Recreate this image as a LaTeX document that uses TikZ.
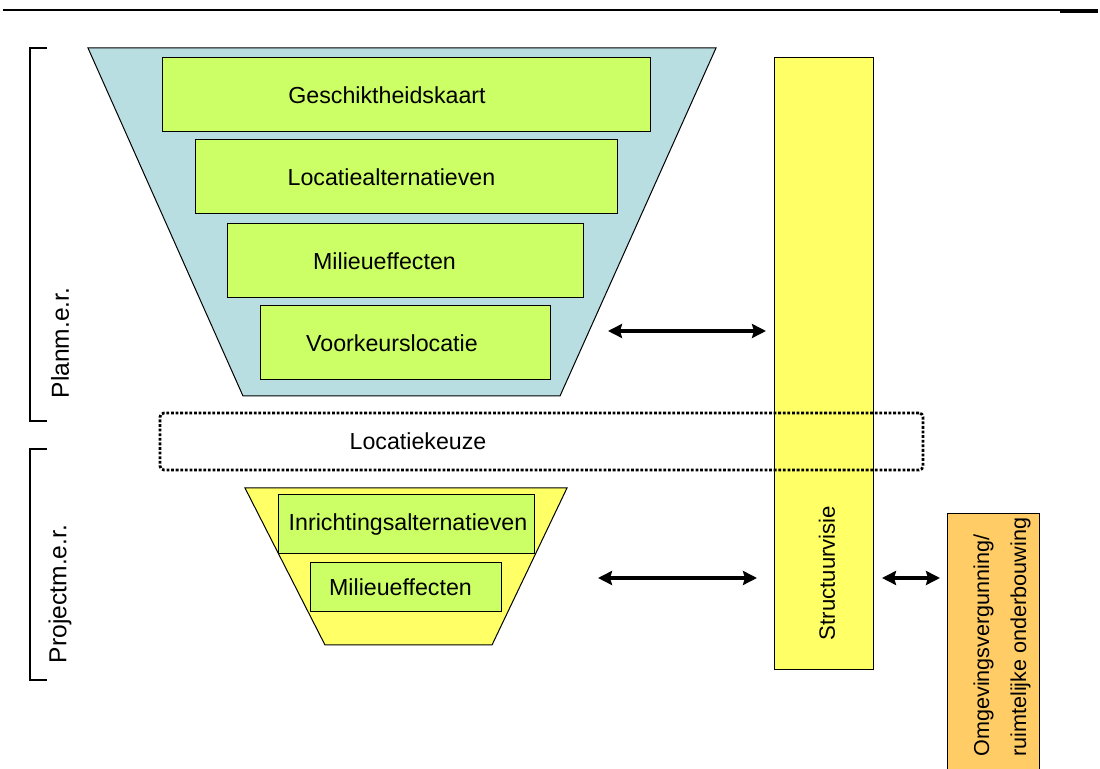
\documentclass[tikz,border=0pt]{standalone}
\usepackage{fontspec}
\setmainfont{Liberation Sans}
\usepackage{tikz}
\usetikzlibrary{arrows.meta}
\definecolor{blauw}{RGB}{185, 222, 226}
\definecolor{groen}{RGB}{204, 255, 102}
\definecolor{geel}{RGB}{255, 255, 102}
\definecolor{oranje}{RGB}{255, 204, 102}
\tikzset{
    trechter/.style={draw=black, line width=0.5pt},
    blok/.style={draw, rectangle, fill=groen, line width=0.5pt, inner sep=0pt},
    keuze/.style={draw, rectangle, rounded corners=2pt, line width=1.4pt, dash pattern=on 1.4pt off 0.9pt, inner sep=0pt},
    lbl/.style={font=\fontsize{11.6}{13}\selectfont},
    zij/.style={rotate=90, font=\fontsize{12.3}{14}\selectfont},
    pijl/.style={{Stealth[length=7pt, width=7pt, inset=1pt]}-{Stealth[length=7pt, width=7pt, inset=1pt]}, line width=1.6pt},
    haak/.style={line width=1.2pt},
}
\begin{document}
\begin{tikzpicture}[x=0.5pt, y=-0.5pt]
        \clip (0, 0) rectangle (1100, 769);

        % bovenlijn
        \draw[line width=1pt] (3, 10) -- (1060, 10);
        \draw[line width=1.6pt] (1060, 11) -- (1098, 11);

        % plan-m.e.r. trechter
        \draw[trechter, fill=blauw] (88, 48) -- (716, 48) -- (560, 396) -- (243, 396) -- cycle;
        \node[blok, minimum width=244pt, minimum height=37pt, label={[lbl, xshift=-9.5pt]center:Geschiktheidskaart}] (geschikt) at (406, 95) {};
        \node[blok, minimum width=211pt, minimum height=37pt, label={[lbl, xshift=-7.25pt]center:Locatiealternatieven}] (localt) at (406, 177) {};
        \node[blok, minimum width=178pt, minimum height=37pt, label={[lbl, xshift=-10.25pt]center:Milieueffecten}] (mileff1) at (405, 261) {};
        \node[blok, minimum width=145pt, minimum height=37pt, label={[lbl, xshift=-6.5pt]center:Voorkeurslocatie}] (voorkeur) at (405, 343) {};

        % structuurvisie
        \node[blok, fill=geel, minimum width=49.5pt, minimum height=306pt] (visie) at (823.5, 364) {};
        \node[font=\fontsize{11.1}{13}\selectfont, rotate=90] (visietxt) at (827, 573) {Structuurvisie};

        % locatiekeuze
        \node[keuze, minimum width=381.5pt, minimum height=28.5pt, label={[lbl, xshift=-61.75pt]center:Locatiekeuze}] (keuze) at (541.5, 441.5) {};

        % project-m.e.r. trechter
        \draw[trechter, fill=geel] (245, 488) -- (567, 488) -- (492, 645) -- (325, 645) -- cycle;
        \node[blok, minimum width=128pt, minimum height=29.5pt, label={[lbl, xshift=1pt]center:Inrichtingsalternatieven}] (inricht) at (406, 524.5) {};
        \node[blok, minimum width=95.5pt, minimum height=24.5pt, label={[lbl, xshift=-2.5pt]center:Milieueffecten}] (mileff2) at (405.5, 587.5) {};

        % omgevingsvergunning
        \node[blok, fill=oranje, minimum width=46pt, minimum height=143pt] (omgeving) at (993, 657) {};
        \node[font=\fontsize{10.8}{18.5}\selectfont, rotate=90, align=left, anchor=west, inner sep=0pt] (omgevingtxt) at (1002, 757) {Omgevingsvergunning/\\ruimtelijke onderbouwing};

        % pijlen
        \coordinate (p1a) at (608, 331);
        \coordinate (p1b) at (766, 331);
        \coordinate (p2a) at (598, 578);
        \coordinate (p2b) at (757, 578);
        \coordinate (p3a) at (882, 578);
        \coordinate (p3b) at (940, 578);
        \draw[pijl] (p1a) -- (p1b);
        \draw[pijl] (p2a) -- (p2b);
        \draw[pijl] (p3a) -- (p3b);

        % haken
        \draw[haak] (47, 48) -- (30, 48) -- (30, 421) -- (47, 421);
        \draw[haak] (47, 449) -- (30, 449) -- (30, 680) -- (47, 680);
        \node[zij] (planmer) at (60, 343) {Planm.e.r.};
        \node[zij] (projectmer) at (60, 594) {Projectm.e.r.};
    \end{tikzpicture}
\end{document}
